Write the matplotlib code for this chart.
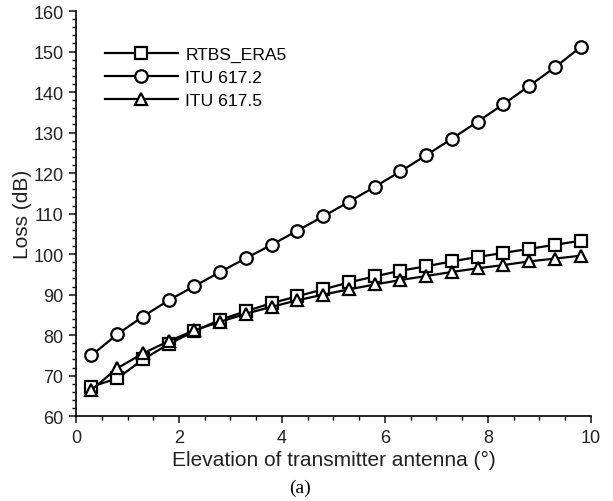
import numpy as np
import matplotlib.pyplot as plt
from matplotlib.ticker import MultipleLocator

plt.rcParams['font.family'] = ['Liberation Sans', 'DejaVu Sans']

# elevation angle (deg)
elevation = [0.3, 0.8, 1.3, 1.8, 2.3, 2.8, 3.3, 3.8, 4.3, 4.8,
             5.3, 5.8, 6.3, 6.8, 7.3, 7.8, 8.3, 8.8, 9.3, 9.8]

# loss (dB)
rtbs_era5 = [67.3, 69.3, 74.0, 77.8, 81.0, 83.8, 85.9, 87.9, 89.6, 91.3,
             93.0, 94.5, 95.9, 97.0, 98.2, 99.3, 100.3, 101.3, 102.3, 103.3]
itu_617_2 = [75.0, 80.2, 84.6, 88.6, 92.1, 95.6, 99.0, 102.3, 105.8, 109.3,
             112.9, 116.6, 120.4, 124.4, 128.5, 132.7, 137.0, 141.5, 146.1, 151.1]
itu_617_5 = [66.5, 71.8, 75.5, 78.5, 81.2, 83.3, 85.3, 87.0, 88.6, 90.0,
             91.3, 92.5, 93.6, 94.6, 95.6, 96.5, 97.3, 98.2, 98.9, 99.6]

fig = plt.figure(figsize=(6.13, 5.02), dpi=100)
ax = fig.add_axes([0.124, 0.169, 0.840, 0.807])

style = dict(color='black', lw=1.6, markersize=9, markerfacecolor='white',
             markeredgecolor='black', markeredgewidth=1.6)
ax.plot(elevation, rtbs_era5, marker='s', label='RTBS_ERA5', **style)
ax.plot(elevation, itu_617_2, marker='o', label='ITU 617.2', **style)
ax.plot(elevation, itu_617_5, marker='^', label='ITU 617.5', **style)

ax.set_xlim(0, 10)
ax.set_ylim(60, 160)
ax.xaxis.set_major_locator(MultipleLocator(2))
ax.xaxis.set_minor_locator(MultipleLocator(0.5))
ax.yaxis.set_major_locator(MultipleLocator(10))
ax.yaxis.set_minor_locator(MultipleLocator(2))
ax.spines['top'].set_visible(False)
ax.spines['right'].set_visible(False)
for s in ['left', 'bottom']:
    ax.spines[s].set_linewidth(1.2)
ax.tick_params(which='major', direction='out', length=5, width=1.2,
               labelsize=13, colors='#222222', pad=4)
ax.tick_params(which='minor', direction='out', length=3, width=1.0)

ax.set_xlabel('Elevation of transmitter antenna (°)', fontsize=15, color='#222222', labelpad=3)
ax.set_ylabel('Loss (dB)', fontsize=15, color='#222222', labelpad=1)

ax.legend(loc='upper left', bbox_to_anchor=(0.025, 0.95), frameon=False,
          fontsize=12.6, handlelength=4.2, handletextpad=0.4, labelspacing=0.42)

fig.text(0.49, 0.018, '(a)', fontsize=14, family='Liberation Serif', ha='center')

fig.savefig('out.png', dpi=100)
